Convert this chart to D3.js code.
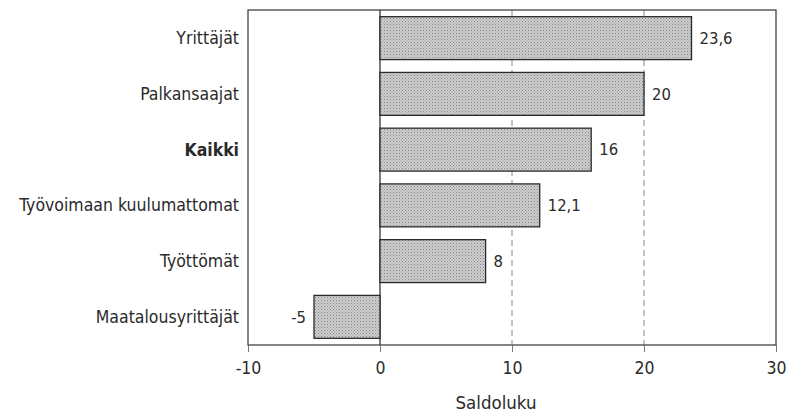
<!DOCTYPE html>
<html><head><meta charset="utf-8">
<script src="https://cdn.jsdelivr.net/npm/d3@7"></script>
<style>
body{margin:0;background:#fff;}
text{font-family:"Liberation Sans Narrow","DejaVu Sans Condensed",sans-serif;fill:#2a2a2a;}
</style></head><body>
<svg id="c" width="798" height="417"></svg>
<script>
const categories = ["Yrittäjät","Palkansaajat","Kaikki","Työvoimaan kuulumattomat","Työttömät","Maatalousyrittäjät"];
const values = [23.6, 20, 16, 12.1, 8, -5];
const valueLabels = ["23,6","20","16","12,1","8","-5"];
const ticks = [-10, 0, 10, 20, 30];
const gridValues = [10, 20];

const svg = d3.select("#c");
const m = {l:248, r:776, t:10, b:345};
const x = d3.scaleLinear().domain([-10,30]).range([m.l, m.r]);
const y = d3.scaleBand().domain(categories).range([m.t, m.b]).paddingInner(0.23).paddingOuter(0.12);

const defs = svg.append("defs");
const pat = defs.append("pattern").attr("id","dots").attr("width",3).attr("height",3).attr("patternUnits","userSpaceOnUse");
pat.append("rect").attr("width",3).attr("height",3).attr("fill","#cfcfcf");
pat.append("rect").attr("x",0).attr("y",0).attr("width",1).attr("height",1).attr("fill","#858585");
pat.append("rect").attr("x",1.5).attr("y",1.5).attr("width",1).attr("height",1).attr("fill","#959595");

// gridlines
svg.selectAll(".grid").data(gridValues).join("line")
  .attr("x1",d=>x(d)).attr("x2",d=>x(d)).attr("y1",m.t).attr("y2",m.b)
  .attr("stroke","#888").attr("stroke-width",1).attr("stroke-dasharray","6,4");

// frame
svg.append("rect").attr("x",m.l).attr("y",m.t).attr("width",m.r-m.l).attr("height",m.b-m.t)
  .attr("fill","none").attr("stroke","#444").attr("stroke-width",1.3);

// zero line
svg.append("line").attr("x1",x(0)).attr("x2",x(0)).attr("y1",m.t).attr("y2",m.b)
  .attr("stroke","#333").attr("stroke-width",1.3);

// bars
svg.selectAll(".bar").data(values).join("rect")
  .attr("x",d=>x(Math.min(0,d))).attr("width",d=>Math.abs(x(d)-x(0)))
  .attr("y",(d,i)=>y(categories[i])).attr("height",y.bandwidth())
  .attr("fill","url(#dots)").attr("stroke","#2a2a2a").attr("stroke-width",1.3);

// value labels
svg.selectAll(".vl").data(values).join("text")
  .attr("x",d=>d>=0? x(d)+8 : x(d)-8)
  .attr("y",(d,i)=>y(categories[i])+y.bandwidth()/2)
  .attr("dy","0.35em").attr("text-anchor",d=>d>=0?"start":"end")
  .attr("font-size",16.5).text((d,i)=>valueLabels[i]);

// category labels
svg.selectAll(".cl").data(categories).join("text")
  .attr("x",m.l-9).attr("y",d=>y(d)+y.bandwidth()/2).attr("dy","0.35em")
  .attr("text-anchor","end").attr("font-size",17.5)
  .attr("font-weight",d=>d==="Kaikki"?"bold":"normal").text(d=>d);

// x axis
const ax = svg.append("g").attr("transform",`translate(0,${m.b})`)
  .call(d3.axisBottom(x).tickValues(ticks).tickSize(7).tickFormat(d=>d));
ax.select(".domain").remove();
ax.selectAll("line").attr("stroke","#777");
ax.selectAll("text").attr("font-size",17.5).attr("dy","1.1em")
  .style("font-family",'"Liberation Sans Narrow","DejaVu Sans Condensed",sans-serif').attr("fill","#2a2a2a");

svg.append("text").attr("x",x(10)-16).attr("y",409).attr("text-anchor","middle")
  .attr("font-size",18.5).text("Saldoluku");
</script></body></html>
